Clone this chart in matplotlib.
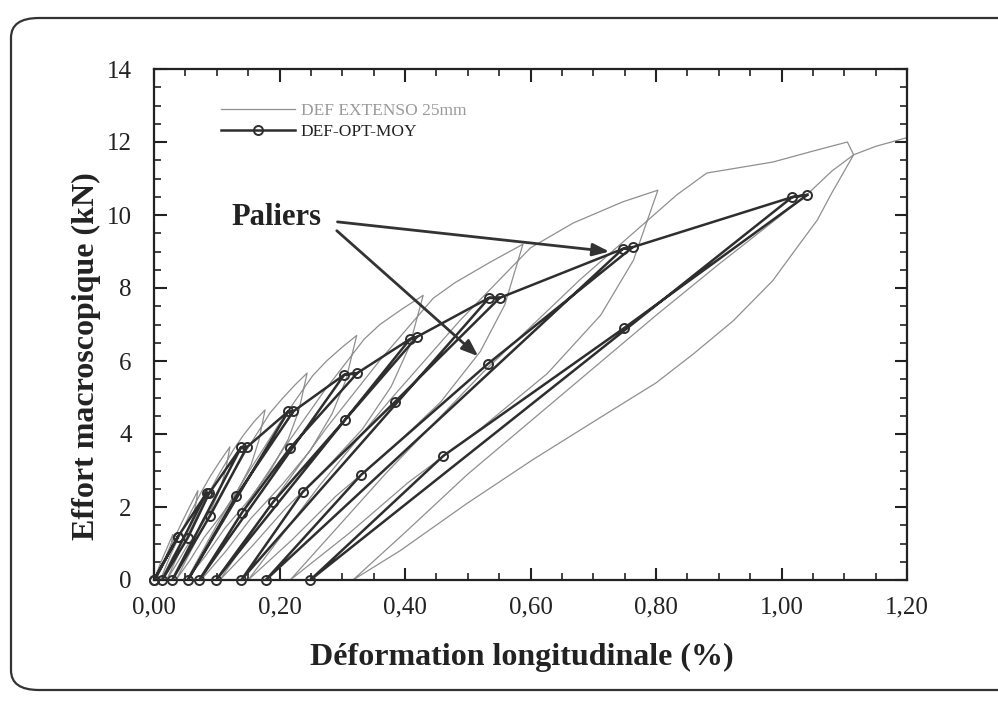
import matplotlib
matplotlib.use("Agg")
import matplotlib.pyplot as plt
from matplotlib.lines import Line2D
from matplotlib.patches import FancyBboxPatch

plt.rcParams['font.family'] = ['Liberation Serif', 'DejaVu Serif']

# ---------------- data ----------------
# Gray curve: DEF EXTENSO 25mm (cyclic loading)
ext_x = [0.000, 0.010, 0.020, 0.030,
         0.028, 0.026, 0.022, 0.017, 0.012, 0.007, 0.003,
         0.011, 0.019, 0.026, 0.034,
         0.045, 0.058, 0.070,
         0.066, 0.061, 0.052, 0.041, 0.029, 0.020, 0.010,
         0.026, 0.043, 0.059, 0.075,
         0.090, 0.105, 0.121,
         0.114, 0.105, 0.091, 0.073, 0.052, 0.036, 0.020,
         0.047, 0.074, 0.100, 0.127,
         0.143, 0.160, 0.177,
         0.167, 0.155, 0.134, 0.109, 0.080, 0.058, 0.035,
         0.073, 0.110, 0.148, 0.185,
         0.205, 0.225, 0.244,
         0.231, 0.214, 0.186, 0.152, 0.113, 0.083, 0.052,
         0.102, 0.153, 0.203, 0.253,
         0.275, 0.300, 0.323,
         0.306, 0.284, 0.249, 0.204, 0.154, 0.115, 0.075,
         0.140, 0.205, 0.270, 0.335,
         0.360, 0.395, 0.429,
         0.407, 0.378, 0.332, 0.273, 0.209, 0.157, 0.105,
         0.190, 0.275, 0.360, 0.445,
         0.480, 0.535, 0.588,
         0.559, 0.520, 0.457, 0.378, 0.290, 0.220, 0.150,
         0.262, 0.375, 0.487, 0.600,
         0.668, 0.747, 0.803,
         0.764, 0.712, 0.627, 0.522, 0.405, 0.311, 0.217,
         0.371, 0.525, 0.679, 0.833,
         0.881, 0.986, 1.050, 1.105,
         1.115, 1.080, 1.057, 1.020, 0.986, 0.923, 0.860, 0.800, 0.711, 0.604, 0.499, 0.392, 0.317,
         0.400, 0.500, 0.600, 0.700, 0.800, 0.900, 1.000, 1.040, 1.080, 1.115, 1.150, 1.200]
ext_y = [0.00, 0.45, 0.85, 1.25,
         1.03, 0.85, 0.66, 0.49, 0.31, 0.15, 0.00,
         0.34, 0.65, 0.94, 1.20,
         1.60, 2.05, 2.45,
         2.01, 1.67, 1.30, 0.96, 0.61, 0.29, 0.00,
         0.67, 1.30, 1.87, 2.40,
         2.85, 3.25, 3.65,
         2.99, 2.48, 1.93, 1.42, 0.91, 0.44, 0.00,
         1.00, 1.93, 2.79, 3.58,
         3.98, 4.35, 4.66,
         3.82, 3.17, 2.47, 1.82, 1.17, 0.56, 0.00,
         1.28, 2.47, 3.57, 4.58,
         4.98, 5.35, 5.67,
         4.65, 3.86, 3.01, 2.21, 1.42, 0.68, 0.00,
         1.57, 3.02, 4.37, 5.60,
         6.00, 6.38, 6.70,
         5.49, 4.56, 3.55, 2.61, 1.68, 0.80, 0.00,
         1.85, 3.56, 5.15, 6.60,
         7.00, 7.42, 7.80,
         6.40, 5.30, 4.13, 3.04, 1.95, 0.94, 0.00,
         2.16, 4.17, 6.02, 7.72,
         8.15, 8.70, 9.20,
         7.54, 6.26, 4.88, 3.59, 2.30, 1.10, 0.00,
         2.55, 4.91, 7.10, 9.10,
         9.78, 10.36, 10.68,
         8.76, 7.26, 5.66, 4.17, 2.67, 1.28, 0.00,
         2.95, 5.70, 8.23, 10.55,
         11.15, 11.45, 11.75, 12.00,
         11.65, 10.60, 9.86, 9.00, 8.20, 7.10, 6.20, 5.40, 4.45, 3.30, 2.10, 0.80, 0.00,
         1.30, 2.90, 4.35, 5.80, 7.25, 8.65, 10.00, 10.55, 11.20, 11.65, 11.88, 12.12]

# Black curve: DEF-OPT-MOY, one entry per cycle
palier_a_x = [0.038, 0.084, 0.139, 0.214, 0.303, 0.408, 0.534, 0.747, 1.017]
palier_a_y = [1.18, 2.39, 3.64, 4.62, 5.62, 6.60, 7.73, 9.07, 10.49]
palier_b_x = [0.038, 0.088, 0.148, 0.222, 0.324, 0.419, 0.551, 0.763, 1.041]
palier_b_y = [1.18, 2.38, 3.64, 4.62, 5.67, 6.66, 7.73, 9.12, 10.55]
unload_hi_x = [None, None, None, None, 0.217, 0.304, 0.384, 0.532, 0.749]
unload_hi_y = [None, None, None, None, 3.62, 4.38, 4.88, 5.92, 6.90]
unload_lo_x = [None, 0.054, 0.089, 0.131, 0.140, 0.190, 0.237, 0.330, 0.461]
unload_lo_y = [None, 1.16, 1.75, 2.30, 1.84, 2.14, 2.41, 2.88, 3.40]
zero_x = [0.000, 0.013, 0.029, 0.054, 0.072, 0.099, 0.139, 0.178, 0.249]

x_ticks = [0.0, 0.2, 0.4, 0.6, 0.8, 1.0, 1.2]
x_ticklabels = ['0,00', '0,20', '0,40', '0,60', '0,80', '1,00', '1,20']
y_ticks = [0, 2, 4, 6, 8, 10, 12, 14]

# ---------------- figure ----------------
W, H = 998, 702
fig = plt.figure(figsize=(W / 100, H / 100), dpi=100)
ax = fig.add_axes([154 / W, 1 - 580 / H, (907 - 154) / W, (580 - 69) / H])

# rounded frame around the figure (right side runs off the page)
frame = FancyBboxPatch((11 / W, 1 - 690 / H), (1030 - 11) / W, (690 - 18) / H,
                       boxstyle="round,pad=0,rounding_size=0.028",
                       transform=fig.transFigure, fill=False,
                       edgecolor='#333333', linewidth=1.6, zorder=0)
fig.patches.append(frame)

gray = '#8f8f8f'
dark = '#2e2e2e'

ax.plot(ext_x, ext_y, color=gray, lw=0.9, zorder=2)

# build the black path
path_x, path_y = [0.0], [0.0]
mk_x, mk_y = [0.0], [0.0]
n = len(zero_x)
for i in range(n):
    path_x += [palier_a_x[i], palier_b_x[i]]
    path_y += [palier_a_y[i], palier_b_y[i]]
    mk_x += [palier_a_x[i], palier_b_x[i]]
    mk_y += [palier_a_y[i], palier_b_y[i]]
    if unload_hi_x[i] is not None:
        path_x.append(unload_hi_x[i]); path_y.append(unload_hi_y[i])
        mk_x.append(unload_hi_x[i]); mk_y.append(unload_hi_y[i])
    if unload_lo_x[i] is not None:
        path_x.append(unload_lo_x[i]); path_y.append(unload_lo_y[i])
        mk_x.append(unload_lo_x[i]); mk_y.append(unload_lo_y[i])
    path_x.append(zero_x[i]); path_y.append(0.0)
    mk_x.append(zero_x[i]); mk_y.append(0.0)
    # reload straight back to the palier
    path_x += [palier_a_x[i], palier_b_x[i]]
    path_y += [palier_a_y[i], palier_b_y[i]]

ax.plot(path_x, path_y, color=dark, lw=1.8, zorder=3, solid_joinstyle='round')
ax.plot(mk_x, mk_y, ls='none', marker='o', ms=6.5, mfc='none', mec=dark, mew=1.4,
        zorder=4, clip_on=False)

# axes styling
ax.set_xlim(0, 1.2)
ax.set_ylim(0, 14)
ax.set_xticks(x_ticks)
ax.set_xticklabels(x_ticklabels)
ax.set_yticks(y_ticks)
ax.set_xticks([i * 0.05 for i in range(25)], minor=True)
ax.set_yticks([i * 0.5 for i in range(29)], minor=True)
ax.tick_params(which='both', direction='in', top=True, right=True, colors='#222222',
               labelcolor='#222222')
ax.tick_params(which='major', length=9, width=1.5, labelsize=18)
ax.tick_params(which='minor', length=5, width=1.2)
ax.tick_params(axis='x', which='major', pad=12)
ax.tick_params(axis='y', which='major', pad=16)
for s in ax.spines.values():
    s.set_linewidth(1.6)
    s.set_color('#222222')

ax.set_xlabel('Déformation longitudinale (%)', fontsize=23, fontweight='bold', color='#222222')
ax.set_ylabel('Effort macroscopique (kN)', fontsize=23, fontweight='bold', color='#222222')
ax.xaxis.set_label_coords(0.489, -0.124)
ax.yaxis.set_label_coords(-0.07, 0.438)

# annotation "Paliers"
ax.text(0.124, 9.92, 'Paliers', fontsize=22, fontweight='bold', color='#222222',
        ha='left', va='center', zorder=5)
ax.annotate('', xy=(0.730, 8.99), xytext=(0.288, 9.82),
            arrowprops=dict(arrowstyle='-|>,head_length=1.0,head_width=0.38',
                            color='#333333', lw=2.0), zorder=5)
ax.annotate('', xy=(0.520, 6.08), xytext=(0.288, 9.62),
            arrowprops=dict(arrowstyle='-|>,head_length=1.0,head_width=0.38',
                            color='#333333', lw=2.0), zorder=5)

# legend
handles = [Line2D([], [], color=gray, lw=0.9),
           Line2D([], [], color=dark, lw=1.8, marker='o', ms=6.5, mfc='none', mec=dark, mew=1.4)]
leg = ax.legend(handles, ['DEF EXTENSO 25mm', 'DEF-OPT-MOY'], loc='upper left',
                bbox_to_anchor=(0.068, 0.965), frameon=False, fontsize=12.5,
                handlelength=4.3, handletextpad=0.3, labelspacing=0.3)
leg.get_texts()[0].set_color('#999999')
leg.get_texts()[1].set_color('#222222')

fig.savefig('out.png', dpi=100)
